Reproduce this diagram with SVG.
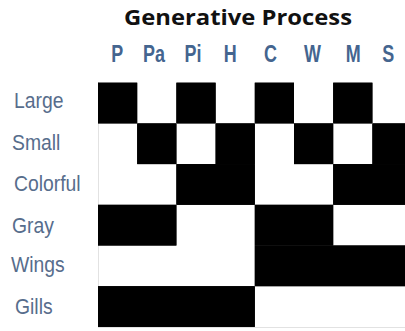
<svg xmlns="http://www.w3.org/2000/svg" width="405" height="331" viewBox="0 0 405 331">
  <style>
    .title { font-family: "Open Sans", "Liberation Sans", sans-serif; font-weight: bold; font-size: 22px; fill: #111; }
    .col { font-family: "Liberation Sans", sans-serif; font-weight: bold; font-size: 23px; fill: #44658f; text-anchor: middle; }
    .row { font-family: "Liberation Sans", sans-serif; font-size: 21.5px; fill: #576d8c; }
    .edge rect { fill: #000; stroke: #8a8a8a; stroke-width: 1.6; }
    .fill rect { fill: #000; stroke: none; }
    .axis { stroke: #e2e2e2; stroke-width: 1; fill: none; }
  </style>
  <defs>
    <!-- one set of black runs, used twice: stroked underlay, then plain fill on top -->
    <g id="cells">
      <!-- Large: P, Pi, C, M -->
      <rect x="98" y="82.7" width="39.2" height="40.7"/>
      <rect x="176.4" y="82.7" width="39.2" height="40.7"/>
      <rect x="254.8" y="82.7" width="39.2" height="40.7"/>
      <rect x="333.2" y="82.7" width="39.2" height="40.7"/>
      <!-- Small: Pa, H, W, S -->
      <rect x="137.2" y="123.4" width="39.2" height="40.7"/>
      <rect x="215.6" y="123.4" width="39.2" height="40.7"/>
      <rect x="294" y="123.4" width="39.2" height="40.7"/>
      <rect x="372.4" y="123.4" width="39.2" height="40.7"/>
      <!-- Colorful: Pi, H, M, S -->
      <rect x="176.4" y="164.1" width="78.4" height="40.7"/>
      <rect x="333.2" y="164.1" width="78.4" height="40.7"/>
      <!-- Gray: P, Pa, C, W -->
      <rect x="98" y="204.8" width="78.4" height="40.7"/>
      <rect x="254.8" y="204.8" width="78.4" height="40.7"/>
      <!-- Wings: C, W, M, S -->
      <rect x="254.8" y="245.5" width="156.8" height="40.7"/>
      <!-- Gills: P, Pa, Pi, H -->
      <rect x="98" y="286.2" width="156.8" height="40.7"/>
    </g>
  </defs>

  <rect width="405" height="331" fill="#fff"/>

  <!-- faint axis lines -->
  <path class="axis" d="M98.5 82 V327.5 M98 327.5 H405"/>

  <text class="title" x="238" y="25" text-anchor="middle" textLength="228" lengthAdjust="spacingAndGlyphs">Generative Process</text>

  <!-- column headers, horizontally condensed -->
  <g id="columns">
    <text class="col" transform="translate(117.2 62) scale(0.78 1)">P</text>
    <text class="col" transform="translate(154 62) scale(0.78 1)">Pa</text>
    <text class="col" transform="translate(193 62) scale(0.78 1)">Pi</text>
    <text class="col" transform="translate(230.3 62) scale(0.78 1)">H</text>
    <text class="col" transform="translate(270.5 62) scale(0.78 1)">C</text>
    <text class="col" transform="translate(312.5 62) scale(0.78 1)">W</text>
    <text class="col" transform="translate(353.3 62) scale(0.78 1)">M</text>
    <text class="col" transform="translate(388.3 62) scale(0.78 1)">S</text>
  </g>

  <!-- row labels, horizontally condensed -->
  <g id="rows">
    <text class="row" transform="translate(14 108) scale(0.9 1)">Large</text>
    <text class="row" transform="translate(12 149.5) scale(0.9 1)">Small</text>
    <text class="row" transform="translate(14 190.5) scale(0.9 1)">Colorful</text>
    <text class="row" transform="translate(12 233) scale(0.9 1)">Gray</text>
    <text class="row" transform="translate(11 272) scale(0.9 1)">Wings</text>
    <text class="row" transform="translate(15 314) scale(0.9 1)">Gills</text>
  </g>

  <g id="matrix">
    <use href="#cells" class="edge"/>
    <use href="#cells" class="fill"/>
  </g>
</svg>
